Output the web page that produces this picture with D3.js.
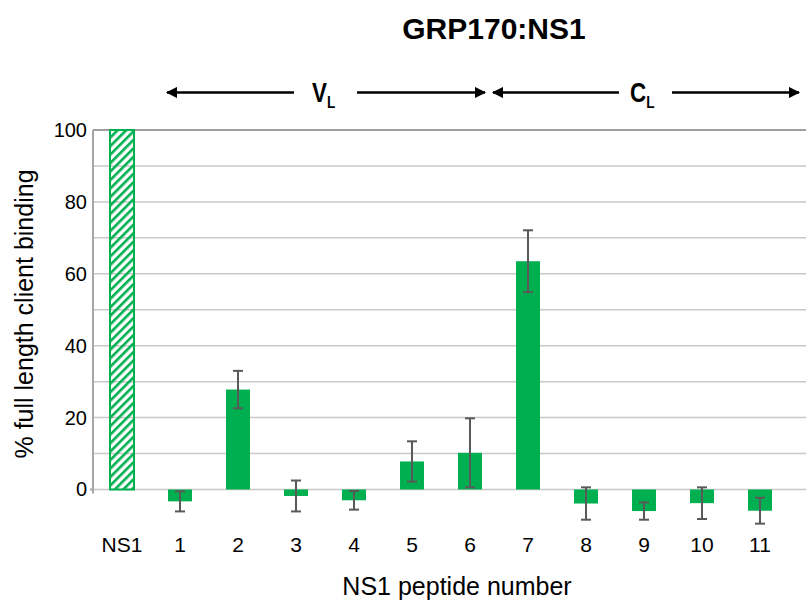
<!DOCTYPE html>
<html>
<head>
<meta charset="utf-8">
<script src="https://cdn.jsdelivr.net/npm/d3@7"></script>
<style>
  body { margin: 0; background: #fff; }
  text { font-family: "Liberation Sans", Arial, sans-serif; fill: #000; }
</style>
</head>
<body>
<svg width="806" height="609"></svg>
<script>
// data
var categories = ["NS1", "1", "2", "3", "4", "5", "6", "7", "8", "9", "10", "11"];
var values = [100, -3.3, 27.8, -1.8, -3.0, 7.8, 10.2, 63.5, -3.9, -6.0, -3.8, -5.9];
var errors = [null, 2.8, 5.2, 4.3, 2.6, 5.6, 9.6, 8.6, 4.5, 2.4, 4.4, 3.6];
var yTicks = [0, 20, 40, 60, 80, 100];
var gridValues = [0, 10, 20, 30, 40, 50, 60, 70, 80, 90, 100];

var svg = d3.select("svg"),
    plotLeft = 93, plotRight = 806, plotTop = 130, zeroY = 489.5;

var x = d3.scaleBand()
    .domain(categories)
    .range([plotLeft, plotLeft + 12 * 58])
    .paddingInner(0.586)
    .paddingOuter(0.293);

var y = d3.scaleLinear().domain([0, 100]).range([zeroY, plotTop]);

var data = categories.map(function(c, i) {
  return {cat: c, value: values[i], err: errors[i]};
});

// hatch pattern for the reference bar
var defs = svg.append("defs");
defs.append("pattern")
    .attr("id", "hatch")
    .attr("patternUnits", "userSpaceOnUse")
    .attr("width", 6)
    .attr("height", 6)
    .attr("patternTransform", "rotate(45)")
  .append("rect")
    .attr("x", 0).attr("y", 0)
    .attr("width", 2.6).attr("height", 6)
    .attr("fill", "#00b050");

// gridlines
svg.append("g")
  .selectAll("line")
  .data(gridValues)
  .enter().append("line")
    .attr("x1", plotLeft)
    .attr("x2", plotRight)
    .attr("y1", function(d) { return y(d); })
    .attr("y2", function(d) { return y(d); })
    .attr("stroke", function(d) { return d === 100 ? "#7f7f7f" : "#c8c8c8"; })
    .attr("stroke-width", 1.5);

// y axis
var yAxis = svg.append("g")
    .attr("transform", "translate(" + plotLeft + ",0)")
    .call(d3.axisLeft(y).tickValues(yTicks).tickSize(0).tickPadding(6));
yAxis.select(".domain").remove();
yAxis.selectAll("text")
    .style("font-size", "20px")
    .attr("font-family", null);
svg.append("line")
    .attr("x1", plotLeft).attr("x2", plotLeft)
    .attr("y1", plotTop).attr("y2", zeroY + 4)
    .attr("stroke", "#a6a6a6").attr("stroke-width", 2);
svg.append("line")
    .attr("x1", plotLeft - 3).attr("x2", plotLeft)
    .attr("y1", y(0)).attr("y2", y(0))
    .attr("stroke", "#a6a6a6").attr("stroke-width", 2);

// bars
svg.append("g")
  .selectAll("rect")
  .data(data)
  .enter().append("rect")
    .attr("x", function(d) { return x(d.cat); })
    .attr("width", x.bandwidth())
    .attr("y", function(d) { return Math.min(y(d.value), y(0)); })
    .attr("height", function(d) { return Math.abs(y(d.value) - y(0)); })
    .attr("fill", function(d, i) { return i === 0 ? "url(#hatch)" : "#00b050"; })
    .attr("stroke", function(d, i) { return i === 0 ? "#00b050" : "none"; })
    .attr("stroke-width", 2);

// error bars
var eb = svg.append("g")
  .selectAll("g")
  .data(data.filter(function(d) { return d.err !== null; }))
  .enter().append("g")
    .attr("stroke", "#595959")
    .attr("stroke-width", 2);
eb.append("line")
    .attr("x1", function(d) { return x(d.cat) + x.bandwidth() / 2; })
    .attr("x2", function(d) { return x(d.cat) + x.bandwidth() / 2; })
    .attr("y1", function(d) { return y(d.value + d.err); })
    .attr("y2", function(d) { return y(d.value - d.err); });
[1, -1].forEach(function(s) {
  eb.append("line")
      .attr("x1", function(d) { return x(d.cat) + x.bandwidth() / 2 - 5; })
      .attr("x2", function(d) { return x(d.cat) + x.bandwidth() / 2 + 5; })
      .attr("y1", function(d) { return y(d.value + s * d.err); })
      .attr("y2", function(d) { return y(d.value + s * d.err); });
});

// x labels
svg.append("g")
  .selectAll("text")
  .data(categories)
  .enter().append("text")
    .attr("x", function(d) { return x(d) + x.bandwidth() / 2; })
    .attr("y", 552)
    .attr("text-anchor", "middle")
    .style("font-size", "21px")
    .text(function(d) { return d; });

// axis titles
svg.append("text")
    .attr("x", 457).attr("y", 595)
    .attr("text-anchor", "middle")
    .style("font-size", "25px")
    .text("NS1 peptide number");

svg.append("text")
    .attr("transform", "translate(33,314) rotate(-90)")
    .attr("text-anchor", "middle")
    .style("font-size", "25px")
    .text("% full length client binding");

svg.append("text")
    .attr("x", 494).attr("y", 39)
    .attr("text-anchor", "middle")
    .style("font-size", "30px")
    .style("font-weight", "bold")
    .text("GRP170:NS1");

// domain arrows
defs.append("marker")
    .attr("id", "head")
    .attr("viewBox", "0 0 10 10")
    .attr("refX", 9).attr("refY", 5)
    .attr("markerWidth", 4.5).attr("markerHeight", 4.5)
    .attr("markerUnits", "strokeWidth")
    .attr("orient", "auto")
  .append("path")
    .attr("d", "M0,0L10,5L0,10z")
    .attr("fill", "#000");

var arrows = [[294, 167], [357, 485], [619, 493], [672, 799]];
svg.append("g")
  .selectAll("line")
  .data(arrows)
  .enter().append("line")
    .attr("x1", function(d) { return d[0]; })
    .attr("x2", function(d) { return d[1]; })
    .attr("y1", 92.5).attr("y2", 92.5)
    .attr("stroke", "#000")
    .attr("stroke-width", 2.5)
    .attr("marker-end", "url(#head)");

// condensed bold labels, squeezed horizontally
var regions = [{main: "V", x: 312}, {main: "C", x: 630}];
var rl = svg.append("g")
  .selectAll("text")
  .data(regions)
  .enter().append("text")
    .attr("transform", function(d) { return "translate(" + d.x + ",102) scale(0.8,1)"; })
    .style("font-weight", "bold")
    .style("font-size", "28px");
rl.append("tspan").text(function(d) { return d.main; });
rl.append("tspan")
    .attr("dy", 6)
    .style("font-size", "17px")
    .text("L");
</script>
</body>
</html>
